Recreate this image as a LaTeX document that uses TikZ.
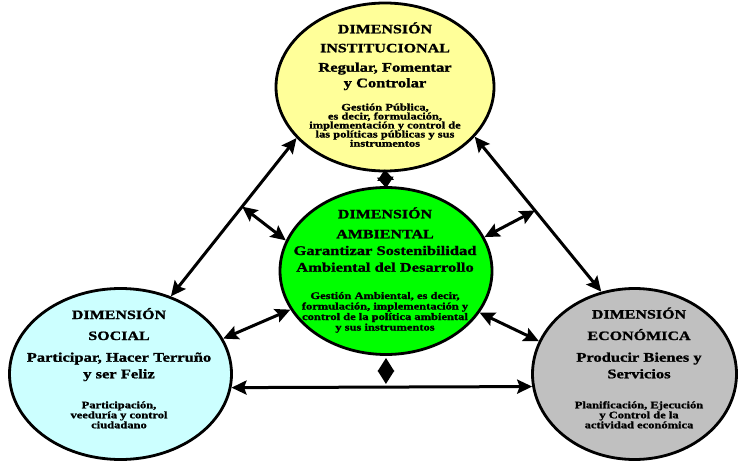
\documentclass[tikz,border=0pt]{standalone}
\usepackage{fontspec}
\setmainfont[FakeStretch=1.25,BoldFeatures={FakeBold=1.3}]{Liberation Serif}
\usetikzlibrary{shapes.geometric,arrows.meta}
\definecolor{insyellow}{HTML}{FFFF99}
\definecolor{ambgreen}{HTML}{00FF00}
\definecolor{soccyan}{HTML}{CCFFFF}
\definecolor{ecogray}{HTML}{C0C0C0}
\tikzset{
  dim/.style={ellipse, draw=black, line width=2.8pt, inner sep=0pt},
  ttl/.style={font=\bfseries\fontsize{12.8}{15}\selectfont, anchor=base, inner sep=0pt},
  sbt/.style={font=\bfseries\fontsize{13.2}{15}\selectfont, anchor=base, inner sep=0pt},
  sml/.style={font=\bfseries\fontsize{10}{10}\selectfont, anchor=base, inner sep=0pt},
  arr/.style={line width=3pt, {Stealth[length=15pt,width=14pt,inset=2.5pt]}-{Stealth[length=15pt,width=14pt,inset=2.5pt]}},
  dia/.style={line width=3pt, {Stealth[length=#1,width=16pt,inset=0pt]}-{Stealth[length=#1,width=16pt,inset=0pt]}},
}
\begin{document}
\begin{tikzpicture}[x=1pt,y=-1pt]
\useasboundingbox (0,0) rectangle (738,462);
% ellipses
\node[dim, fill=insyellow, minimum width=218pt, minimum height=168pt] (ins) at (385,87) {};
\node[dim, fill=ambgreen, minimum width=212pt, minimum height=167pt] (amb) at (386,271) {};
\node[dim, fill=soccyan, minimum width=222pt, minimum height=171pt] (soc) at (120.5,374) {};
\node[dim, fill=ecogray, minimum width=204pt, minimum height=171pt] (eco) at (634.5,374) {};
% connectors
\draw[arr] (soc.57.9) -- coordinate[pos=0.567] (lb) (ins.210.1);
\draw[arr] (lb) -- (amb.163.2);
\draw[arr] (ins.331.9) -- coordinate[pos=0.476] (rb) (eco.112.2);
\draw[arr] (rb) -- (amb.19);
\draw[arr] (soc.19.2) -- (amb.202.1);
\draw[arr] (amb.336.6) -- (eco.161.5);
\draw[arr] (soc.-7) -- coordinate[pos=0.5135] (hb) (eco.187.4);
\draw[dia=13.5pt, shorten <=3pt, shorten >=2pt] (hb) -- (amb.south);
\draw[dia=11pt, shorten <=-3pt, shorten >=-2pt] (ins.south) -- (amb.north);
% institutional text
\node[ttl] (ins-t1) at (385,33.3) {DIMENSIÓN};
\node[ttl] (ins-t2) at (385,52.3) {INSTITUCIONAL};
\node[sbt] (ins-s1) at (385,71.7) {Regular, Fomentar};
\node[sbt] (ins-s2) at (385,87.3) {y Controlar};
\node[sml] (ins-m1) at (385,110.5) {Gestión Pública,};
\node[sml] (ins-m2) at (385,119.5) {es decir, formulación,};
\node[sml] (ins-m3) at (385,128.5) {implementación y control de};
\node[sml] (ins-m4) at (385,137.5) {las políticas públicas y sus};
\node[sml] (ins-m5) at (385,146.7) {instrumentos};
% environmental text
\node[ttl] (amb-t1) at (385,218.3) {DIMENSIÓN};
\node[ttl] (amb-t2) at (385,238.3) {AMBIENTAL};
\node[sbt] (amb-s1) at (385,255) {Garantizar Sostenibilidad};
\node[sbt] (amb-s2) at (385,271.7) {Ambiental del Desarrollo};
\node[sml] (amb-m1) at (385,299) {Gestión Ambiental, es decir,};
\node[sml] (amb-m2) at (385,309.5) {formulación, implementación y};
\node[sml] (amb-m3) at (385,320) {control de la política ambiental};
\node[sml] (amb-m4) at (385,330.5) {y sus instrumentos};
% social text
\node[ttl] (soc-t1) at (119,319) {DIMENSIÓN};
\node[ttl] (soc-t2) at (119,340) {SOCIAL};
\node[sbt] (soc-s1) at (119,361.7) {Participar, Hacer Terruño};
\node[sbt] (soc-s2) at (119,378.3) {y ser Feliz};
\node[sml] (soc-m1) at (119,408.3) {Participación,};
\node[sml] (soc-m2) at (119,418.3) {veeduría y control};
\node[sml] (soc-m3) at (119,428.3) {ciudadano};
% economic text
\node[ttl] (eco-t1) at (639,318.5) {DIMENSIÓN};
\node[ttl] (eco-t2) at (639,340) {ECONÓMICA};
\node[sbt] (eco-s1) at (639,361.7) {Producir Bienes y};
\node[sbt] (eco-s2) at (639,378.3) {Servicios};
\node[sml] (eco-m1) at (639,408.3) {Planificación, Ejecución};
\node[sml] (eco-m2) at (639,418.3) {y Control de la};
\node[sml] (eco-m3) at (639,428.3) {actividad económica};
\end{tikzpicture}
\end{document}
